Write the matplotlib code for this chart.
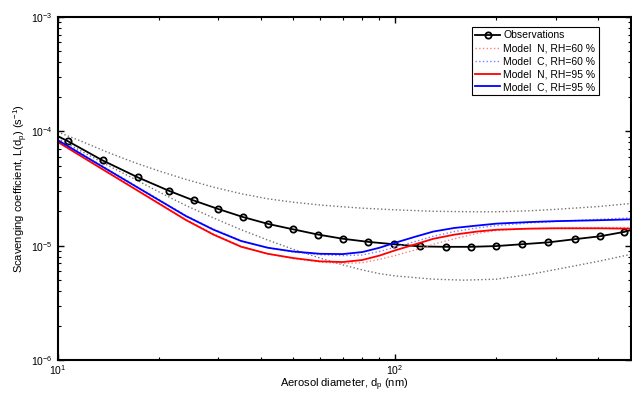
import numpy as np
import matplotlib
matplotlib.use("Agg")
import matplotlib.pyplot as plt
from matplotlib.ticker import LogLocator, NullFormatter

plt.rcParams['font.family'] = ['Liberation Sans', 'DejaVu Sans']
plt.rcParams['mathtext.fontset'] = 'custom'
plt.rcParams['mathtext.rm'] = 'Liberation Sans'
plt.rcParams['mathtext.it'] = 'Liberation Sans'

# Observations (line endpoints + marker positions)
obs_d = [10, 10.72, 13.6, 17.3, 21.4, 25.3, 30.0, 35.5, 42.1, 50.0, 59.3, 70.2,
         83.5, 99.4, 118.8, 141.6, 167.6, 199.6, 237.7, 284.9, 341, 405.8, 477.7, 500]
obs_L = [9.1e-5, 8.22e-5, 5.57e-5, 3.96e-5, 3.02e-5, 2.49e-5, 2.09e-5, 1.78e-5, 1.55e-5,
         1.39e-5, 1.25e-5, 1.15e-5, 1.08e-5, 1.03e-5, 0.986e-5, 0.978e-5, 0.978e-5,
         0.993e-5, 1.03e-5, 1.07e-5, 1.14e-5, 1.21e-5, 1.32e-5, 1.37e-5]

# model curves
mod_d = [10, 12, 14, 17, 20, 24, 29, 35, 42, 50, 60, 70, 80, 90, 100, 115, 130,
         150, 175, 200, 250, 300, 400, 500]
n60 = [8.2e-5, 5.9e-5, 4.48e-5, 3.16e-5, 2.36e-5, 1.7e-5, 1.27e-5, 9.9e-6, 8.5e-6,
       7.7e-6, 7.2e-6, 7.0e-6, 7.1e-6, 7.6e-6, 8.2e-6, 9.2e-6, 1.03e-5, 1.15e-5,
       1.28e-5, 1.36e-5, 1.41e-5, 1.43e-5, 1.44e-5, 1.44e-5]
c60 = [8.5e-5, 6.2e-5, 4.72e-5, 3.36e-5, 2.53e-5, 1.84e-5, 1.4e-5, 1.11e-5, 9.6e-6,
       8.8e-6, 8.35e-6, 8.2e-6, 8.3e-6, 8.9e-6, 9.7e-6, 1.09e-5, 1.21e-5, 1.33e-5,
       1.43e-5, 1.5e-5, 1.58e-5, 1.63e-5, 1.7e-5, 1.75e-5]
n95 = [8.1e-5, 5.83e-5, 4.42e-5, 3.12e-5, 2.33e-5, 1.68e-5, 1.25e-5, 9.8e-6, 8.5e-6,
       7.8e-6, 7.3e-6, 7.2e-6, 7.5e-6, 8.2e-6, 9.1e-6, 1.03e-5, 1.15e-5, 1.25e-5,
       1.33e-5, 1.38e-5, 1.41e-5, 1.42e-5, 1.42e-5, 1.41e-5]
c95 = [8.4e-5, 6.1e-5, 4.66e-5, 3.32e-5, 2.5e-5, 1.82e-5, 1.38e-5, 1.1e-5, 9.6e-6,
       8.9e-6, 8.5e-6, 8.45e-6, 8.8e-6, 9.6e-6, 1.06e-5, 1.2e-5, 1.33e-5, 1.43e-5,
       1.5e-5, 1.56e-5, 1.61e-5, 1.64e-5, 1.67e-5, 1.70e-5]

# observation uncertainty bounds
up_d = [10, 12, 14, 17, 20, 24, 29, 35, 42, 50, 60, 70, 80, 100, 130, 175, 200,
        250, 300, 400, 500]
up_L = [9.9e-5, 8.0e-5, 6.6e-5, 5.3e-5, 4.5e-5, 3.8e-5, 3.25e-5, 2.85e-5, 2.57e-5,
        2.4e-5, 2.27e-5, 2.19e-5, 2.13e-5, 2.06e-5, 2.0e-5, 1.98e-5, 1.98e-5,
        2.02e-5, 2.08e-5, 2.2e-5, 2.34e-5]
lo_d = [10, 12, 14, 17, 20, 24, 29, 35, 42, 50, 60, 70, 80, 90, 100, 130, 160,
        200, 250, 300, 400, 500]
lo_L = [8.7e-5, 6.5e-5, 5.1e-5, 3.8e-5, 2.95e-5, 2.25e-5, 1.75e-5, 1.38e-5, 1.12e-5,
        9.3e-6, 7.8e-6, 6.8e-6, 6.15e-6, 5.7e-6, 5.45e-6, 5.1e-6, 5.0e-6, 5.1e-6,
        5.6e-6, 6.2e-6, 7.3e-6, 8.4e-6]

fig = plt.figure(figsize=(6.32, 3.94), dpi=100)
ax = fig.add_axes([0.091, 0.086, 0.907, 0.871])

ax.plot(up_d, up_L, ':', color='0.45', lw=1)
ax.plot(lo_d, lo_L, ':', color='0.45', lw=1)
ax.plot(obs_d, obs_L, '-o', color='k', lw=1.3, ms=4.5, mfc='none', mew=1.3,
        markevery=list(range(1, len(obs_d) - 1)), label='Observations')
ax.plot(mod_d, n60, ':', color='#ff8080', lw=1, label='Model  N, RH=60 %')
ax.plot(mod_d, c60, ':', color='#8080ff', lw=1, label='Model  C, RH=60 %')
ax.plot(mod_d, n95, '-', color='red', lw=1.3, label='Model  N, RH=95 %')
ax.plot(mod_d, c95, '-', color='blue', lw=1.3, label='Model  C, RH=95 %')

ax.set_xscale('log')
ax.set_yscale('log')
ax.set_xlim(10, 500)
ax.set_ylim(1e-6, 1e-3)
ax.xaxis.set_minor_formatter(NullFormatter())
ax.yaxis.set_minor_locator(LogLocator(subs=np.arange(2, 10)))
ax.tick_params(which='both', direction='in', top=True, right=True, labelsize=7.5)
ax.tick_params(which='major', length=4, width=1)
ax.tick_params(which='minor', length=2.5, width=0.8)
ax.tick_params(axis='x', pad=2)
for s in ax.spines.values():
    s.set_linewidth(1.5)

ax.set_xlabel('Aerosol diameter, d$_\\mathregular{p}$ (nm)', fontsize=8, labelpad=0)
ax.set_ylabel('Scavenging coefficient, L(d$_\\mathregular{p}$) (s$^{-1}$)', fontsize=8, labelpad=1)

leg = ax.legend(loc='upper right', bbox_to_anchor=(0.953, 0.985), fontsize=7.5,
                frameon=True, fancybox=False, edgecolor='k', framealpha=1,
                handlelength=2.4, borderpad=0.3, labelspacing=0.28, handletextpad=0.3)
leg.get_frame().set_linewidth(0.8)

fig.savefig('out.png', dpi=100)
